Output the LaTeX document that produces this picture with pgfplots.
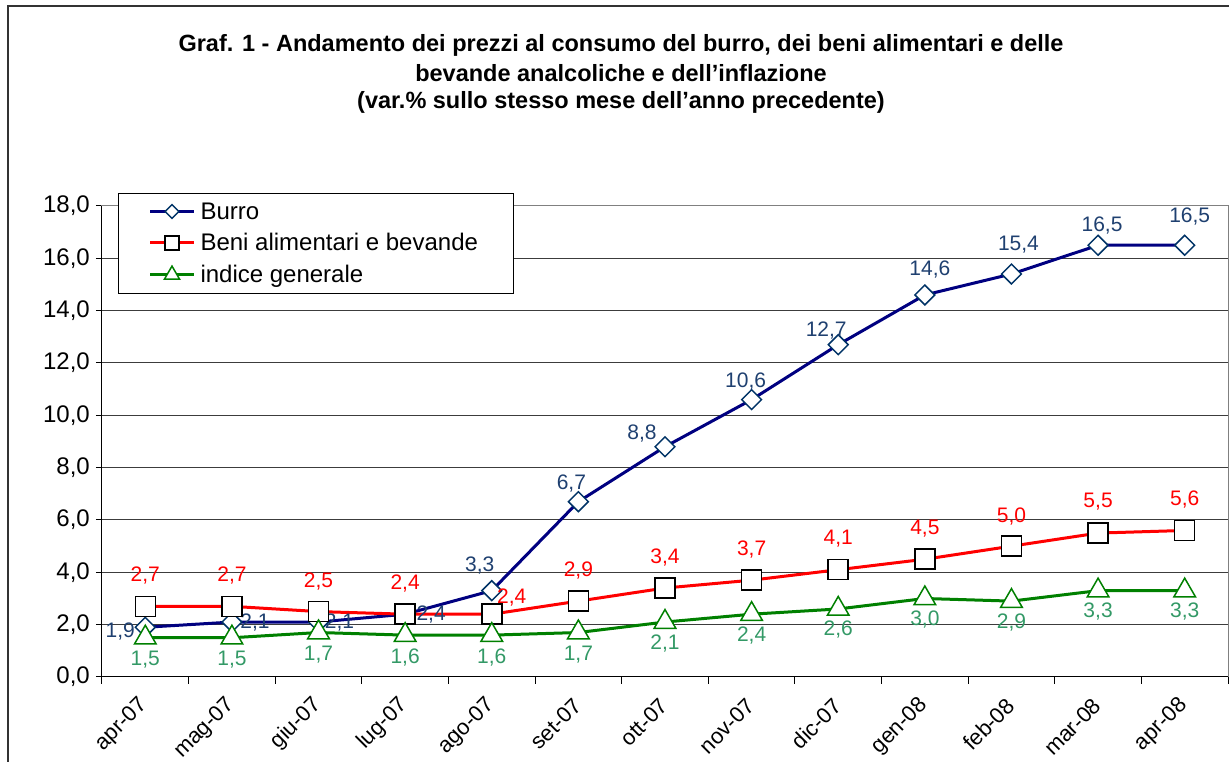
\documentclass[border=0pt]{standalone}
\usepackage{fontspec}
\setmainfont{Liberation Sans}
\usepackage{pgfplots}
\usepackage{pgfplotstable}
\pgfplotsset{compat=1.18}

\definecolor{burroline}{RGB}{0,0,128}
\definecolor{burromark}{RGB}{0,51,102}
\definecolor{burrolab}{RGB}{31,64,112}
\definecolor{indline}{RGB}{0,128,0}
\definecolor{indlab}{RGB}{51,153,102}
\definecolor{gridc}{RGB}{60,60,60}
\definecolor{borderc}{RGB}{128,128,128}

\pgfplotstableread{
x y dx dy
0 1.9 -25 -4
1 2.1 23 0
2 2.1 21 0
3 2.4 26 0
4 3.3 -12 25
5 6.7 -7 18
6 8.8 -23 13
7 10.6 -6 18
8 12.7 -12 14
9 14.6 5 25
10 15.4 7 29
11 16.5 4 20
12 16.5 5 29
}\burro

\pgfplotstableread{
x y dx dy
0 2.7 0 31
1 2.7 0 31
2 2.5 0 30
3 2.4 0 31
4 2.4 20 17
5 2.9 0 31
6 3.4 0 31
7 3.7 0 31
8 4.1 0 31
9 4.5 0 31
10 5.0 0 30
11 5.5 0 31
12 5.6 0 31
}\beni

\pgfplotstableread{
x y dx dy
0 1.5 0 -22
1 1.5 0 -22
2 1.7 0 -22
3 1.6 0 -22
4 1.6 0 -22
5 1.7 0 -22
6 2.1 0 -21
7 2.4 0 -21
8 2.6 0 -21
9 3.0 0 -21
10 2.9 0 -21
11 3.3 0 -21
12 3.3 0 -21
}\indice

\begin{document}
\begin{tikzpicture}[x=1pt,y=1pt]
\useasboundingbox (-102,-85) rectangle (1127,677);
% outer frame
\draw[line width=2pt, black!80] (-94,-100) -- (-94,671) -- (1140,671);
% title
\node[font=\fontsize{23.5}{28}\selectfont\bfseries] at (519,632) {Graf. 1 - Andamento dei prezzi al consumo del burro, dei beni alimentari e delle};
\node[font=\fontsize{23.5}{28}\selectfont\bfseries] at (519,604) {bevande analcoliche e dell'inflazione};
\node[font=\fontsize{23.5}{28}\selectfont\bfseries] at (519,575) {(var.\% sullo stesso mese dell'anno precedente)};
\begin{axis}[
  at={(0,0)}, anchor=south west,
  scale only axis, width=1126pt, height=471pt,
  xmin=-0.5, xmax=12.5, ymin=0, ymax=18,
  axis line style={borderc, line width=1pt},
  xtick={0,...,12},
  xticklabels={apr-07,mag-07,giu-07,lug-07,ago-07,set-07,ott-07,nov-07,dic-07,gen-08,feb-08,mar-08,apr-08},
  major x tick style={draw=none},
  minor xtick={-0.5,0.5,...,12.5},
  minor tick length=7pt,
  minor x tick style={black, line width=1pt},
  ytick={0,2,...,18},
  major tick length=6pt,
  major y tick style={black, line width=1pt},
  tick align=outside,
  tick pos=left,
  ymajorgrids, major grid style={gridc, line width=1pt},
  xticklabel style={rotate=45, anchor=east, font=\fontsize{22}{26}\selectfont, inner sep=2pt, xshift=-12pt, yshift=-13pt},
  yticklabel style={font=\fontsize{24}{28}\selectfont, inner sep=2pt, xshift=-4pt,
     /pgf/number format/.cd, fixed, fixed zerofill, precision=1, use comma, assume math mode=true},
  legend style={at={(16pt,484pt)}, anchor=north west, draw=black, line width=1pt,
     font=\fontsize{24}{28}\selectfont, inner xsep=30pt, inner ysep=7pt, row sep=9pt,
     cells={anchor=west}, nodes={inner xsep=5pt}},
  legend image code/.code={\draw[mark repeat=2,mark phase=2,#1, every mark/.append style={scale=0.7}] plot coordinates {(0pt,0pt) (22pt,0pt) (44pt,0pt)};},
  nodes near coords={\pgfmathprintnumber[fixed,fixed zerofill,precision=1,use comma,assume math mode=true]{\pgfplotspointmeta}},
  visualization depends on={\thisrow{dx}\as\dx},
  visualization depends on={\thisrow{dy}\as\dy},
  every node near coord/.append style={anchor=center, xshift=\dx pt, yshift=\dy pt, inner sep=0pt, font=\fontsize{21}{25}\selectfont},
  clip=false,
]
\addplot[burroline, line width=3pt, mark=square*, mark size=7pt,
  mark options={rotate=45, fill=white, draw=burromark, line width=1.5pt},
  every node near coord/.append style={text=burrolab}]
  table[x=x, y=y, meta=y]{\burro};
\addlegendentry{Burro}
\addplot[red, line width=3pt, mark=square*, mark size=10pt,
  mark options={fill=white, draw=black, line width=1.5pt},
  every node near coord/.append style={text=red}]
  table[x=x, y=y, meta=y]{\beni};
\addlegendentry{Beni alimentari e bevande}
\addplot[indline, line width=3pt, mark=triangle*, mark size=12.5pt,
  mark options={fill=white, draw=indline, line width=1.5pt},
  every node near coord/.append style={text=indlab}]
  table[x=x, y=y, meta=y]{\indice};
\addlegendentry{indice generale}
\draw[black, line width=1pt] (rel axis cs:0,1) -- (rel axis cs:0,0) -- (rel axis cs:1,0);
\end{axis}
\end{tikzpicture}
\end{document}
